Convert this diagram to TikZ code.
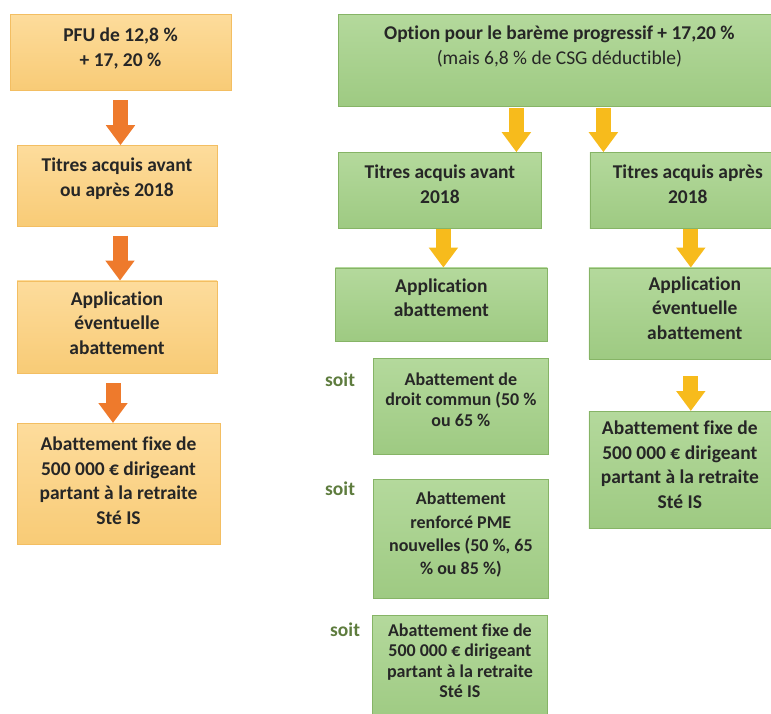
\documentclass[tikz,border=0pt]{standalone}
\usepackage{fontspec}
\setmainfont{Carlito}[Ligatures=CommonOff]
\usepackage{tikz}
\usetikzlibrary{positioning, arrows.meta}

\definecolor{orangetop}{HTML}{FDDC9C}
\definecolor{orangebottom}{HTML}{F8CB76}
\definecolor{orangeline}{HTML}{F3BE62}
\definecolor{greentop}{HTML}{B4D99C}
\definecolor{greenbottom}{HTML}{9ECA82}
\definecolor{greenline}{HTML}{86B466}
\definecolor{arroworange}{HTML}{EE7A2C}
\definecolor{arrowyellow}{HTML}{F7BB1C}
\definecolor{soitgreen}{HTML}{5E7C3E}
\definecolor{textdark}{HTML}{262626}

\tikzstyle{orangebox} = [rectangle, draw=orangeline, top color=orangetop, bottom color=orangebottom, inner sep=0pt, align=center, text=textdark, font=\bfseries\fontsize{19.5}{24.5}\selectfont]
\tikzstyle{greenbox} = [rectangle, draw=greenline, top color=greentop, bottom color=greenbottom, inner sep=0pt, align=center, text=textdark, font=\bfseries\fontsize{19.5}{24.5}\selectfont]
\tikzstyle{smalltext} = [font=\bfseries\fontsize{18}{20.5}\selectfont]
\tikzstyle{soit} = [text=soitgreen, inner sep=0pt, font=\bfseries\fontsize{19.5}{22}\selectfont]
\tikzstyle{orangearrow} = [draw=arroworange, line width=15pt, -{Triangle[width=28pt,length=20pt]}]
\tikzstyle{yellowarrow} = [draw=arrowyellow, line width=15pt, -{Triangle[width=28pt,length=20pt]}]
\tikzset{boxdim/.style n args={4}{minimum width=#1, minimum height=#2, text height=#3, text depth=#4}}

\begin{document}
\begin{tikzpicture}[x=1pt, y=-1pt]
        \useasboundingbox (0,0) rectangle (771,713);

        % left column: PFU
        \node (pfu) [orangebox, boxdim={221pt}{76pt}{52pt}{24pt}] at (120.5,52) {PFU de 12,8 \%\\+ 17, 20 \%};
        \node (titres) [orangebox, boxdim={200pt}{81pt}{51pt}{30pt}, below=55pt of pfu, xshift=-3.5pt] {Titres acquis avant\\ou après 2018};
        \node (appl) [orangebox, boxdim={200pt}{92pt}{73.5pt}{18.5pt}, below=54pt of titres] {Application\\éventuelle\\abattement};
        \node (fixe) [orangebox, boxdim={203pt}{121pt}{101pt}{20pt}, below=50pt of appl, xshift=1.5pt] {Abattement fixe de\\500 000 € dirigeant\\partant à la retraite\\Sté IS};

        % right part: bareme progressif
        \node (option) [greenbox, boxdim={442pt}{92pt}{50pt}{42pt}, right=107pt of pfu, yshift=-8pt] {Option pour le barème progressif + 17,20 \%\\{\mdseries (mais 6,8 \% de CSG déductible)}};
        \node (avant) [greenbox, boxdim={203pt}{76pt}{51pt}{25pt}, below=46pt of option, xshift=-119.5pt] {Titres acquis avant\\2018};
        \node (apres) [greenbox, boxdim={196pt}{76pt}{51pt}{25pt}, right=48pt of avant] {Titres acquis après\\2018};
        \node (applavant) [greenbox, boxdim={212pt}{73pt}{49pt}{24pt}, below=39pt of avant, xshift=1.5pt] {Application\\abattement};
        \node (commun) [greenbox, smalltext, boxdim={175pt}{96pt}{68pt}{28pt}, below=17pt of applavant, xshift=19.5pt] {Abattement de\\droit commun (50 \%\\ou 65 \%};
        \node (renforce) [greenbox, font=\bfseries\fontsize{18}{23.3}\selectfont, boxdim={175pt}{119pt}{95pt}{24pt}, below=25pt of commun] {Abattement\\renforcé PME\\nouvelles (50 \%, 65\\\% ou 85 \%)};
        \node (fixeavant) [greenbox, smalltext, boxdim={175pt}{107pt}{82.5pt}{24.5pt}, below=16pt of renforce, xshift=-1pt] {Abattement fixe de\\500 000 € dirigeant\\partant à la retraite\\Sté IS};
        \node (applapres) [greenbox, boxdim={212pt}{91pt}{71.5pt}{19.5pt}, below=39pt of apres, xshift=7pt] {Application\\éventuelle\\abattement};
        \node (fixeapres) [greenbox, boxdim={182pt}{117pt}{97pt}{20pt}, below=52pt of applapres, xshift=-15pt] {Abattement fixe de\\500 000 € dirigeant\\partant à la retraite\\Sté IS};

        % soit labels
        \node (soitA) [soit, left=18pt of commun.north west, yshift=-22pt] {soit};
        \node (soitB) [soit, left=18pt of renforce.north west, yshift=-9pt] {soit};
        \node (soitC) [soit, left=12pt of fixeavant.north west, yshift=-15pt] {soit};

        \draw [orangearrow, shorten <=10pt] (pfu.south) -- (pfu.south |- titres.north);
        \draw [orangearrow, shorten <=9pt] ([xshift=3pt]titres.south) -- ([xshift=3pt]titres.south |- appl.north);
        \draw [orangearrow, shorten <=10pt] ([xshift=-4pt]appl.south) -- ([xshift=-4pt]appl.south |- fixe.north);

        \draw [yellowarrow, shorten <=2pt] ([xshift=-43pt]option.south) -- ([xshift=-43pt]option.south |- avant.north);
        \draw [yellowarrow, shorten <=2pt] ([xshift=44pt]option.south) -- ([xshift=44pt]option.south |- apres.north);
        \draw [yellowarrow] ([xshift=3.5pt]avant.south) -- ([xshift=3.5pt]avant.south |- applavant.north);
        \draw [yellowarrow] ([xshift=3pt]apres.south) -- ([xshift=3pt]apres.south |- applapres.north);
        \draw [yellowarrow, shorten <=17pt] ([xshift=-4pt]applapres.south) -- ([xshift=-4pt]applapres.south |- fixeapres.north);

\end{tikzpicture}
\end{document}
